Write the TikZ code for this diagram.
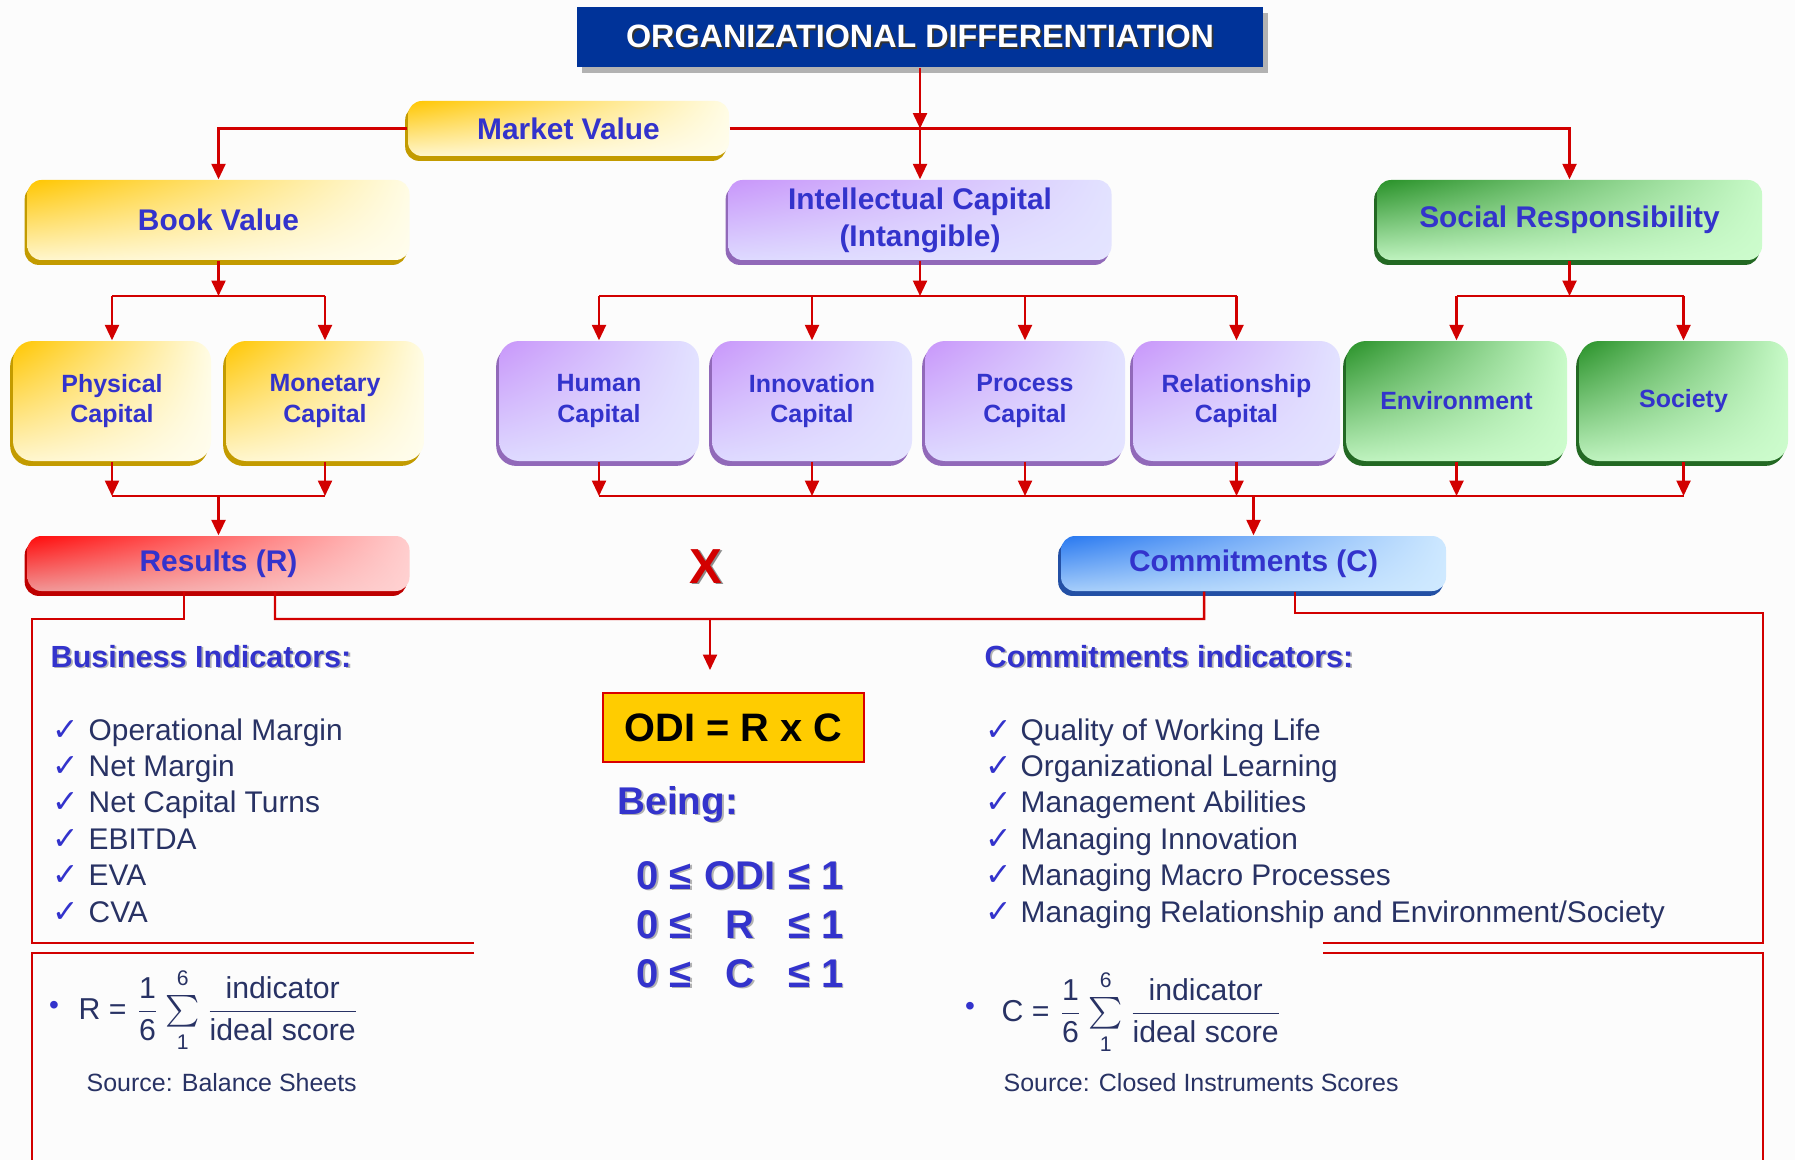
\documentclass[tikz,border=0pt]{standalone}
\usepackage{amsmath}
\usepackage{fontspec}
\setmainfont{Liberation Sans}
\newfontfamily\symbfont{DejaVu Sans}
\usetikzlibrary{arrows.meta,shadings,shadows}

\definecolor{bgpage}{RGB}{252,252,252}
\definecolor{textblue}{RGB}{51,51,204}
\definecolor{itemnavy}{RGB}{40,50,100}
\definecolor{titleblue}{RGB}{0,51,153}
\definecolor{linkred}{RGB}{210,0,0}
\definecolor{odiyellow}{RGB}{255,204,0}
% card colours: A upper left, B upper right, C lower left, D lower right, E edge
\definecolor{yelA}{RGB}{255,198,0}
\definecolor{yelB}{RGB}{255,252,228}
\definecolor{yelC}{RGB}{255,246,205}
\definecolor{yelD}{RGB}{255,253,238}
\definecolor{yelE}{RGB}{195,155,0}
\definecolor{purA}{RGB}{200,150,250}
\definecolor{purB}{RGB}{226,226,255}
\definecolor{purC}{RGB}{222,218,255}
\definecolor{purD}{RGB}{228,228,255}
\definecolor{purE}{RGB}{145,105,185}
\definecolor{grnA}{RGB}{40,145,40}
\definecolor{grnB}{RGB}{200,250,200}
\definecolor{grnC}{RGB}{190,242,190}
\definecolor{grnD}{RGB}{205,252,205}
\definecolor{grnE}{RGB}{35,105,35}
\definecolor{redA}{RGB}{255,10,10}
\definecolor{redB}{RGB}{255,205,205}
\definecolor{redC}{RGB}{240,150,150}
\definecolor{redD}{RGB}{255,210,210}
\definecolor{redE}{RGB}{190,0,0}
\definecolor{bluA}{RGB}{40,120,240}
\definecolor{bluB}{RGB}{205,232,255}
\definecolor{bluC}{RGB}{165,205,250}
\definecolor{bluD}{RGB}{208,234,255}
\definecolor{bluE}{RGB}{35,80,165}

% grey copy of the text set just behind it
\newcommand{\shadowed}[2][black!30]{%
  \leavevmode\rlap{\kern0.5pt\raisebox{-0.5pt}{\textcolor{#1}{#2}}}#2}
% R and C score formula
\newcommand{\score}{$\dfrac{\text{1}}{\text{6}}\sum\limits_{\text{\raisebox{-0.8pt}{1}}}^{\text{\raisebox{1pt}{6}}}\dfrac{\text{indicator}}{\text{ideal score}}$}

\tikzset{
  link/.style={draw=linkred, line width=0.6pt},
  arr/.style={link, -{Triangle[length=4.4pt,width=4pt]}},
  frame/.style={draw=linkred, line width=0.7pt},
  boxsize/.style 2 args={minimum width=#1mm, minimum height=#2mm},
  card/.style={rounded corners=1.4mm, inner sep=0pt, align=center, text=textblue,
    font=\bfseries\fontsize{8.5}{10.5}\selectfont, shade, shading=bilinear interpolation},
  lowcard/.style={rounded corners=2mm, font=\bfseries\fontsize{7.1}{8.6}\selectfont},
  edge/.style={drop shadow={shadow xshift=-0.8pt, shadow yshift=-1.4pt, fill=#1, opacity=1}},
  ycard/.style={card, upper left=yelA, upper right=yelB, lower left=yelC, lower right=yelD, edge=yelE},
  pcard/.style={card, upper left=purA, upper right=purB, lower left=purC, lower right=purD, edge=purE},
  gcard/.style={card, upper left=grnA, upper right=grnB, lower left=grnC, lower right=grnD, edge=grnE},
  rcard/.style={card, upper left=redA, upper right=redB, lower left=redC, lower right=redD, edge=redE},
  bcard/.style={card, upper left=bluA, upper right=bluB, lower left=bluC, lower right=bluD, edge=bluE},
  titlebox/.style={fill=titleblue, inner sep=0pt, text=white, font=\bfseries\fontsize{9.2}{11}\selectfont,
    drop shadow={shadow xshift=1.4pt, shadow yshift=-1.6pt, fill=black!30, opacity=1}},
  headtxt/.style={text=textblue, font=\bfseries\fontsize{8.7}{10}\selectfont, inner sep=0pt, anchor=west},
  bigtxt/.style={text=textblue, font=\bfseries\fontsize{11.4}{13}\selectfont, inner sep=0pt, anchor=base},
  chk/.style={text=textblue, font=\symbfont\fontsize{9}{10}\selectfont, inner sep=0pt, anchor=base west},
  itemtxt/.style={text=itemnavy, font=\fontsize{8.5}{10}\selectfont, inner sep=0pt, anchor=base west},
  srctxt/.style={text=itemnavy, font=\fontsize{7.1}{9}\selectfont, inner sep=0pt, anchor=base west},
  formula/.style={text=itemnavy, font=\fontsize{8.6}{10}\selectfont, inner sep=0pt, anchor=west},
  bullet/.style={text=textblue, font=\fontsize{8}{10}\selectfont, inner sep=0pt}
}

\begin{document}
\begin{tikzpicture}[x=0.1mm, y=-0.1mm]
  \path[fill=bgpage, use as bounding box] (0,0) rectangle (1795,1160);

  % title
  \node[titlebox, boxsize={68.6}{6.0}] (title) at (920,37)
    {\shadowed[black!80]{ORGANIZATIONAL DIFFERENTIATION}};

  % value levels
  \node[ycard, boxsize={32.1}{5.5}] (market) at (568.5,128.5) {Market Value};
  \node[ycard, boxsize={38.2}{8.0}] (book) at (218.5,220) {Book Value};
  \node[pcard, boxsize={38.3}{8.0}] (intel) at (920,220) {Intellectual Capital\\(Intangible)};
  \node[gcard, boxsize={38.5}{8.0}] (social) at (1569.5,220) {Social Responsibility};

  \node[ycard, lowcard, boxsize={19.8}{12}] (phys) at (112,401) {Physical\\Capital};
  \node[ycard, lowcard, boxsize={19.8}{12}] (mone) at (325,401) {Monetary\\Capital};
  \node[pcard, lowcard, boxsize={20}{12}] (human) at (599,401) {Human\\Capital};
  \node[pcard, lowcard, boxsize={20}{12}] (innov) at (812,401) {Innovation\\Capital};
  \node[pcard, lowcard, boxsize={20}{12}] (proc) at (1025,401) {Process\\Capital};
  \node[pcard, lowcard, boxsize={20.7}{12}] (rel) at (1236.5,401) {Relationship\\Capital};
  \node[gcard, lowcard, boxsize={22.1}{12}] (env) at (1456.5,401) {Environment};
  \node[gcard, lowcard, boxsize={20.9}{12}] (soc) at (1683.5,401) {Society};

  \node[rcard, boxsize={38.2}{5.5}] (results) at (218.5,563.5) {Results (R)};
  \node[bcard, boxsize={38.5}{5.5}] (commit) at (1253.5,563.5) {Commitments (C)};
  \node[text=linkred, font=\bfseries\fontsize{14}{14}\selectfont, inner sep=0pt] (times) at (706,567)
    {\shadowed[black!45]{X}};

  % tree connectors
  \draw[arr] (title.south) -- (title.south |- market.east);
  \draw[arr] (intel.north |- market.east) -- (intel.north);
  \draw[arr] (market.west) -| (book.north);
  \draw[arr] (market.east) -| (social.north);

  \coordinate (bbus) at (218.5,296);
  \coordinate (ibus) at (920,296);
  \coordinate (sbus) at (1569.5,296);
  \draw[arr] (book.south) -- (bbus);
  \draw[arr] (intel.south) -- (ibus);
  \draw[arr] (social.south) -- (sbus);
  \draw[link] (bbus -| phys) -- (bbus -| mone);
  \draw[link] (ibus -| human) -- (ibus -| rel);
  \draw[link] (sbus -| env) -- (sbus -| soc);
  \foreach \n in {phys,mone,human,innov,proc,rel,env,soc}
    \draw[arr] (bbus -| \n) -- (\n.north);

  \coordinate (rbus) at (218.5,496);
  \coordinate (cbus) at (1253.5,496);
  \foreach \n in {phys,mone,human,innov,proc,rel,env,soc}
    \draw[arr] (\n.south) -- (rbus -| \n);
  \draw[link] (rbus -| phys) -- (rbus -| mone);
  \draw[link] (rbus -| human) -- (rbus -| soc);
  \draw[arr] (rbus) -- (results.north);
  \draw[arr] (cbus) -- (commit.north);

  % indicator frames
  \coordinate (lj) at (275,619);
  \coordinate (rj) at (1204,619);
  \coordinate (odiin) at (710,670);
  \draw[frame] ([xshift=5.65mm]results.south) -- (lj) -- (rj) -- ([xshift=-4.95mm]commit.south);
  \draw[arr] (lj -| odiin) -- (odiin);
  \draw[frame] ([xshift=-3.45mm]results.south) |- (32,619) -- (32,943) -- (474,943);
  \draw[frame] ([xshift=4.15mm]commit.south) |- (1763,613) -- (1763,943) -- (1323,943);
  \draw[frame] (474,953) -- (32,953) -- (32,1160);
  \draw[frame] (1323,953) -- (1763,953) -- (1763,1160);

  % centre column
  \node[fill=odiyellow, draw=red!85!black, line width=0.8pt, boxsize={26.1}{6.9},
    font=\bfseries\fontsize{11.3}{13}\selectfont] (odi) at (733.5,727.5) {ODI = R x C};
  \node[bigtxt, anchor=west, font=\bfseries\fontsize{11}{13}\selectfont] (being) at (617,805) {\shadowed{Being:}};
  \foreach \m/\yy [count=\k] in {ODI/889, R/938, C/987}
    \node[bigtxt] (range\k) at (740,\yy) {\shadowed{\makebox[20.7mm]{0 ≤\hfill\m\hfill≤ 1}}};

  % business indicators
  \node[headtxt] (bihead) at (50,657) {\shadowed{Business Indicators:}};
  \foreach \t [count=\i] in {Operational Margin, Net Margin, Net Capital Turns, EBITDA, EVA, CVA} {
    \node[chk] (bck\i) at (52,{740+36.4*(\i-1)}) {✓};
    \node[itemtxt] (bit\i) at (88,{740+36.4*(\i-1)}) {\t};
  }
  \node[bullet] (rbul) at (54,1008) {•};
  \node[formula] (rform) at (78,1010) {R = \score};
  \node[srctxt] (rsrc) at (86,1091) {Source: Balance Sheets};

  % commitments indicators
  \node[headtxt] (cihead) at (984,657) {\shadowed{Commitments indicators:}};
  \foreach \t [count=\i] in {Quality of Working Life, Organizational Learning, Management Abilities,
      Managing Innovation, Managing Macro Processes, {Managing Relationship and Environment/Society}} {
    \node[chk] (cck\i) at (985,{740+36.4*(\i-1)}) {✓};
    \node[itemtxt] (cit\i) at (1020,{740+36.4*(\i-1)}) {\t};
  }
  \node[bullet] (cbul) at (970,1009) {•};
  \node[formula] (cform) at (1001,1012) {C = \score};
  \node[srctxt] (csrc) at (1003,1091) {Source: Closed Instruments Scores};
\end{tikzpicture}
\end{document}
